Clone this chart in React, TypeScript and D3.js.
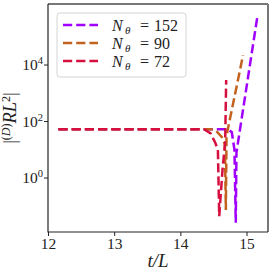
import React from "react";
import * as d3 from "d3";

// Series data: t/L values and log10 of |value|
const tRed = [12.15, 14.35, 14.45, 14.52, 14.56, 14.58, 14.63, 14.67, 14.685];
const logRed = [1.73, 1.73, 1.58, 1.25, 1.0, -1.35, 0.3, 1.3, 3.47];
const tOrange = [12.15, 14.45, 14.53, 14.62, 14.665, 14.68, 14.69, 14.94];
const logOrange = [1.73, 1.73, 1.68, 1.45, 1.2, -1.13, 1.5, 4.35];
const tPurple = [12.15, 14.62, 14.72, 14.77, 14.81, 14.83, 14.84, 15.16];
const logPurple = [1.73, 1.73, 1.72, 1.62, 1.0, -1.58, 0.9, 5.77];

const seriesNames = ["152", "90", "72"];
const seriesColors = ["#a100ff", "#c2621f", "#d6103e"];
const xTicks = [12, 13, 14, 15];
const yTickExps = [0, 2, 4];

const W = 273, H = 273;
const L = 48, R = 268, T = 4, B = 232;

export default function App() {
  const x = d3.scaleLinear().domain([12, 15.317]).range([L + 0.5, R]);
  const y = d3.scaleLinear().domain([-1.91, 6.16]).range([B, T]);
  const line = d3.line<[number, number]>().x(d => x(d[0])).y(d => y(d[1]));
  const series = [
    { t: tPurple, v: logPurple },
    { t: tOrange, v: logOrange },
    { t: tRed, v: logRed },
  ];
  const serif = "'Liberation Serif', 'DejaVu Serif', serif";
  const dash = "9.2 4";
  return (
    <svg width={W} height={H} style={{ position: "absolute", left: 0, top: 0 }}>
      <rect width={W} height={H} fill="#fff" />
      <defs>
        <clipPath id="plotclip">
          <rect x={L} y={T} width={R - L} height={B - T} />
        </clipPath>
      </defs>
      <g clipPath="url(#plotclip)">
        {series.map((s, i) => (
          <path
            key={i}
            d={line(s.t.map((t, j) => [t, s.v[j]] as [number, number])) || ""}
            fill="none"
            stroke={seriesColors[i]}
            strokeWidth={2.5}
            strokeDasharray={dash}
          />
        ))}
      </g>
      {/* spines */}
      <line x1={L} x2={R} y1={T} y2={T} stroke="#777" strokeWidth={2} />
      <line x1={R} x2={R} y1={T} y2={B} stroke="#777" strokeWidth={2} />
      <line x1={L} x2={L} y1={T} y2={B + 0.5} stroke="#222" strokeWidth={1.2} />
      <line x1={L} x2={R} y1={B} y2={B} stroke="#222" strokeWidth={1.2} />
      {/* x ticks */}
      {xTicks.map(t => (
        <g key={t}>
          <line x1={x(t)} x2={x(t)} y1={B} y2={B + 4} stroke="#222" strokeWidth={1} />
          <text x={x(t)} y={B + 17} textAnchor="middle" fontFamily={serif} fontSize={15.5} fill="#222">
            {t}
          </text>
        </g>
      ))}
      {/* y ticks */}
      {yTickExps.map(e => (
        <g key={e}>
          <line x1={L - 4} x2={L} y1={y(e)} y2={y(e)} stroke="#222" strokeWidth={1} />
          <text x={L - 5} y={y(e) + 5} textAnchor="end" fontFamily={serif} fontSize={15.5} fill="#222">
            10<tspan dy={-6} fontSize={10.5}>{e}</tspan>
          </text>
        </g>
      ))}
      {/* x label */}
      <text x={(L + R) / 2} y={267} textAnchor="middle" fontFamily={serif} fontSize={19} fontStyle="italic" fill="#222">
        t/L
      </text>
      {/* y label */}
      <text
        transform={`translate(16, ${(T + B) / 2}) rotate(-90)`}
        textAnchor="middle"
        fontFamily={serif}
        fontSize={18.5}
        fontStyle="italic"
        fill="#222"
      >
        <tspan fontStyle="normal">|</tspan>
        <tspan dy={-6} fontSize={12} fontStyle="normal">(</tspan>
        <tspan fontSize={12}>D</tspan>
        <tspan fontSize={12} fontStyle="normal">)</tspan>
        <tspan dy={6}>RL</tspan>
        <tspan dy={-6} fontSize={12} fontStyle="normal">2</tspan>
        <tspan dy={6} fontStyle="normal">|</tspan>
      </text>
      {/* legend */}
      <rect x={57} y={13} width={129} height={64} rx={3} fill="#fff" fillOpacity={0.8} stroke="#d4d4d4" strokeWidth={1} />
      {seriesNames.map((n, i) => {
        const cy = 25 + i * 18;
        return (
          <g key={n}>
            <line x1={63} x2={98} y1={cy} y2={cy} stroke={seriesColors[i]} strokeWidth={2.5} strokeDasharray={dash} />
            <text x={112} y={cy + 5.5} fontFamily={serif} fontSize={16} fontStyle="italic" fill="#222">N</text>
            <text x={125} y={cy + 8.5} fontFamily={serif} fontSize={11} fontStyle="italic" fill="#222">θ</text>
            <text x={140} y={cy + 5.5} fontFamily={serif} fontSize={16} fill="#222">=</text>
            <text x={154} y={cy + 5.5} fontFamily={serif} fontSize={16} fill="#222">{n}</text>
          </g>
        );
      })}
    </svg>
  );
}
